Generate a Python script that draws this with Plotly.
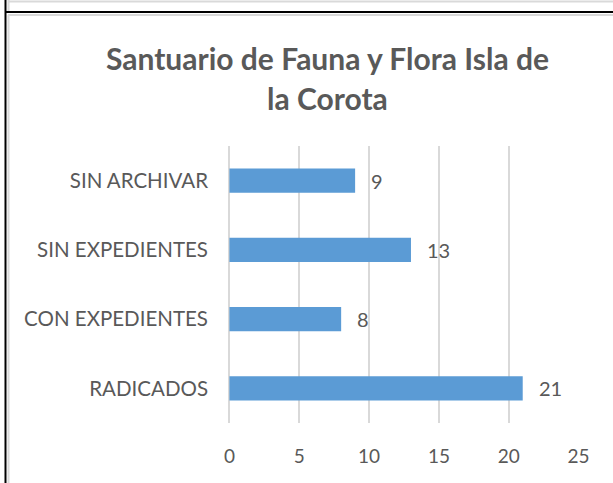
import plotly.graph_objects as go

categories = ["RADICADOS", "CON EXPEDIENTES", "SIN EXPEDIENTES", "SIN ARCHIVAR"]
values = [21, 8, 13, 9]
x_ticks = [0, 5, 10, 15, 20, 25]
title_lines = ["Santuario de Fauna y Flora Isla de", "la Corota"]

W, H = 613, 483
L, R, T, B = 229, 34, 146, 60
PW, PH = W - L - R, H - T - B

def fx(px):
    return (px - L) / PW

def fy(py):
    return (H - B - py) / PH

TXT = "#595959"
GRID = "#D9D9D9"
BAR = "#5B9BD5"
FONT = "Lato"

fig = go.Figure()
fig.add_trace(go.Bar(
    x=values, y=categories, orientation="h",
    marker=dict(color=BAR, line=dict(width=0)),
    width=0.35, hoverinfo="skip",
))

for v, c in zip(values, categories):
    fig.add_annotation(x=v, y=c, text=str(v), showarrow=False,
                       xanchor="left", yanchor="middle", xshift=14,
                       font=dict(family=FONT, size=20, color=TXT))

for i, line in enumerate(title_lines):
    fig.add_annotation(x=fx(327), y=fy(58 + 40 * i), xref="paper", yref="paper",
                       text=f"<b>{line}</b>", showarrow=False,
                       xanchor="center", yanchor="middle",
                       font=dict(family=FONT, size=30, color=TXT))

def line(x0, y0, x1, y1, color, width):
    fig.add_shape(type="line", xref="paper", yref="paper",
                  x0=fx(x0), y0=fy(y0), x1=fx(x1), y1=fy(y1),
                  line=dict(color=color, width=width), layer="above")

line(8, 1.5, 613, 1.5, GRID, 2)
line(8.5, 0, 8.5, 11, GRID, 2)
line(8, 15, 613, 15, GRID, 2)
line(8.5, 15, 8.5, 483, GRID, 2)
line(5.5, 0, 5.5, 483, "black", 2)
line(5, 12, 613, 12, "black", 2)

fig.update_layout(
    width=W, height=H,
    margin=dict(l=L, r=R, t=T, b=B, pad=0),
    paper_bgcolor="white", plot_bgcolor="white",
    showlegend=False,
    font=dict(family=FONT, color=TXT),
    xaxis=dict(range=[-0.03, 25.03], tickvals=x_ticks, showgrid=True, gridcolor=GRID,
               gridwidth=1.6, zeroline=True, zerolinecolor=GRID, zerolinewidth=1.6,
               showline=False, ticks="",
               tickfont=dict(family=FONT, size=19, color=TXT),
               ticklabelstandoff=20, fixedrange=True),
    yaxis=dict(showgrid=False, zeroline=False, showline=False, ticks="",
               tickfont=dict(family=FONT, size=20.5, color=TXT),
               ticklabelstandoff=20, fixedrange=True),
)

fig.write_html("out.html", config={"displayModeBar": False},
               post_script="document.body.style.margin='0';document.body.style.padding='0';")
